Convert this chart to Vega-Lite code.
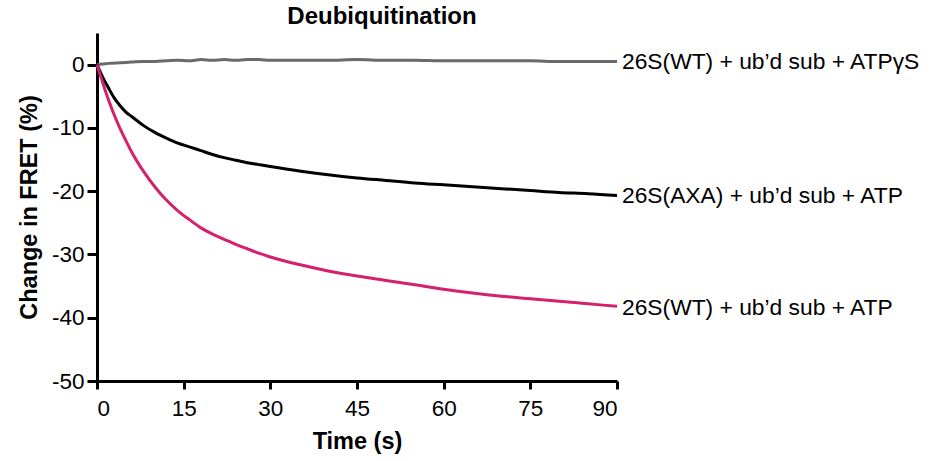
{
  "$schema": "https://vega.github.io/schema/vega-lite/v6.json",
  "autosize": "none",
  "width": 520,
  "height": 348,
  "padding": {"left": 97, "top": 33, "right": 319, "bottom": 80},
  "background": "white",
  "config": {
    "font": "Liberation Sans",
    "view": {"stroke": null}
  },
  "title": {"text": "Deubiquitination", "fontSize": 24, "fontWeight": "bold", "font": "Liberation Sans", "color": "black", "anchor": "middle", "offset": 4, "dx": 25},
  "datasets": {
    "curves": [
      {"s": "gray", "t": 0, "v": 0}, {"s": "gray", "t": 1, "v": 0.1}, {"s": "gray", "t": 2, "v": 0.2}, {"s": "gray", "t": 4, "v": 0.3}, {"s": "gray", "t": 6, "v": 0.4}, {"s": "gray", "t": 8, "v": 0.5}, {"s": "gray", "t": 10, "v": 0.5}, {"s": "gray", "t": 12, "v": 0.6}, {"s": "gray", "t": 14, "v": 0.7}, {"s": "gray", "t": 16, "v": 0.6}, {"s": "gray", "t": 18, "v": 0.8}, {"s": "gray", "t": 20, "v": 0.7}, {"s": "gray", "t": 22, "v": 0.8}, {"s": "gray", "t": 24, "v": 0.7}, {"s": "gray", "t": 26, "v": 0.8}, {"s": "gray", "t": 28, "v": 0.8}, {"s": "gray", "t": 30, "v": 0.7}, {"s": "gray", "t": 35, "v": 0.7}, {"s": "gray", "t": 40, "v": 0.7}, {"s": "gray", "t": 45, "v": 0.8}, {"s": "gray", "t": 50, "v": 0.7}, {"s": "gray", "t": 55, "v": 0.7}, {"s": "gray", "t": 60, "v": 0.6}, {"s": "gray", "t": 65, "v": 0.6}, {"s": "gray", "t": 70, "v": 0.6}, {"s": "gray", "t": 75, "v": 0.6}, {"s": "gray", "t": 80, "v": 0.5}, {"s": "gray", "t": 85, "v": 0.5}, {"s": "gray", "t": 90, "v": 0.5},
      {"s": "black", "t": 0, "v": 0}, {"s": "black", "t": 1, "v": -2.0}, {"s": "black", "t": 2, "v": -3.7}, {"s": "black", "t": 3, "v": -5.3}, {"s": "black", "t": 4, "v": -6.5}, {"s": "black", "t": 5, "v": -7.5}, {"s": "black", "t": 6, "v": -8.2}, {"s": "black", "t": 8, "v": -9.6}, {"s": "black", "t": 10, "v": -10.7}, {"s": "black", "t": 12, "v": -11.6}, {"s": "black", "t": 14, "v": -12.4}, {"s": "black", "t": 16, "v": -13.0}, {"s": "black", "t": 18, "v": -13.6}, {"s": "black", "t": 20, "v": -14.2}, {"s": "black", "t": 22, "v": -14.7}, {"s": "black", "t": 24, "v": -15.1}, {"s": "black", "t": 26, "v": -15.5}, {"s": "black", "t": 28, "v": -15.8}, {"s": "black", "t": 30, "v": -16.1}, {"s": "black", "t": 35, "v": -16.8}, {"s": "black", "t": 40, "v": -17.4}, {"s": "black", "t": 45, "v": -17.9}, {"s": "black", "t": 50, "v": -18.3}, {"s": "black", "t": 55, "v": -18.7}, {"s": "black", "t": 60, "v": -19.0}, {"s": "black", "t": 65, "v": -19.3}, {"s": "black", "t": 70, "v": -19.6}, {"s": "black", "t": 75, "v": -19.9}, {"s": "black", "t": 80, "v": -20.2}, {"s": "black", "t": 85, "v": -20.4}, {"s": "black", "t": 90, "v": -20.7},
      {"s": "pink", "t": 0, "v": 0}, {"s": "pink", "t": 1, "v": -2.9}, {"s": "pink", "t": 2, "v": -5.6}, {"s": "pink", "t": 3, "v": -8.0}, {"s": "pink", "t": 4, "v": -10.1}, {"s": "pink", "t": 5, "v": -12.0}, {"s": "pink", "t": 6, "v": -13.8}, {"s": "pink", "t": 8, "v": -16.8}, {"s": "pink", "t": 10, "v": -19.3}, {"s": "pink", "t": 12, "v": -21.4}, {"s": "pink", "t": 14, "v": -23.1}, {"s": "pink", "t": 16, "v": -24.5}, {"s": "pink", "t": 18, "v": -25.8}, {"s": "pink", "t": 20, "v": -26.8}, {"s": "pink", "t": 22, "v": -27.6}, {"s": "pink", "t": 24, "v": -28.4}, {"s": "pink", "t": 26, "v": -29.1}, {"s": "pink", "t": 28, "v": -29.8}, {"s": "pink", "t": 30, "v": -30.4}, {"s": "pink", "t": 35, "v": -31.6}, {"s": "pink", "t": 40, "v": -32.6}, {"s": "pink", "t": 45, "v": -33.4}, {"s": "pink", "t": 50, "v": -34.1}, {"s": "pink", "t": 55, "v": -34.8}, {"s": "pink", "t": 60, "v": -35.5}, {"s": "pink", "t": 65, "v": -36.1}, {"s": "pink", "t": 70, "v": -36.6}, {"s": "pink", "t": 75, "v": -37.0}, {"s": "pink", "t": 80, "v": -37.4}, {"s": "pink", "t": 85, "v": -37.8}, {"s": "pink", "t": 90, "v": -38.2}
    ],
    "labels": [
      {"s": "gray", "t": 90, "v": 0.4, "label": "26S(WT) + ub’d sub + ATPγS"},
      {"s": "black", "t": 90, "v": -20.7, "label": "26S(AXA) + ub’d sub + ATP"},
      {"s": "pink", "t": 90, "v": -38.5, "label": "26S(WT) + ub’d sub + ATP"}
    ]
  },
  "layer": [
    {
      "data": {"name": "curves"},
      "mark": {"type": "line", "strokeWidth": 3, "interpolate": "monotone"},
      "encoding": {
        "x": {"field": "t", "type": "quantitative", "scale": {"domain": [0, 90], "nice": false}, "axis": {"values": [0, 15, 30, 45, 60, 75, 90], "title": "Time (s)", "grid": false, "domainColor": "black", "tickColor": "black", "domainWidth": 3, "tickWidth": 3, "tickSize": 8, "labelFontSize": 22.5, "labelFont": "Liberation Sans", "labelColor": "black", "labelPadding": 8, "titleFontSize": 23.5, "titleFont": "Liberation Sans", "titleFontWeight": "bold", "titleColor": "black", "titlePadding": 10}},
        "y": {"field": "v", "type": "quantitative", "scale": {"domain": [-50, 5], "nice": false, "zero": false}, "axis": {"values": [-50, -40, -30, -20, -10, 0], "labelExpr": "datum.value < 0 ? '-' + abs(datum.value) : '' + datum.value", "title": "Change in FRET (%)", "grid": false, "domainColor": "black", "tickColor": "black", "domainWidth": 3, "tickWidth": 3, "tickSize": 10, "labelFontSize": 22.5, "labelFont": "Liberation Sans", "labelColor": "black", "labelPadding": 3, "titleFontSize": 23.5, "titleFont": "Liberation Sans", "titleFontWeight": "bold", "titleColor": "black", "titlePadding": 10}},
        "color": {"field": "s", "type": "nominal", "scale": {"domain": ["gray", "black", "pink"], "range": ["#6a6a6a", "#000000", "#d4206e"]}, "legend": null},
        "detail": {"field": "s"}
      }
    },
    {
      "data": {"name": "labels"},
      "mark": {"type": "text", "align": "left", "baseline": "middle", "dx": 5, "fontSize": 22.8, "font": "Liberation Sans", "color": "black"},
      "encoding": {
        "x": {"field": "t", "type": "quantitative"},
        "y": {"field": "v", "type": "quantitative"},
        "text": {"field": "label"}
      }
    }
  ]
}
